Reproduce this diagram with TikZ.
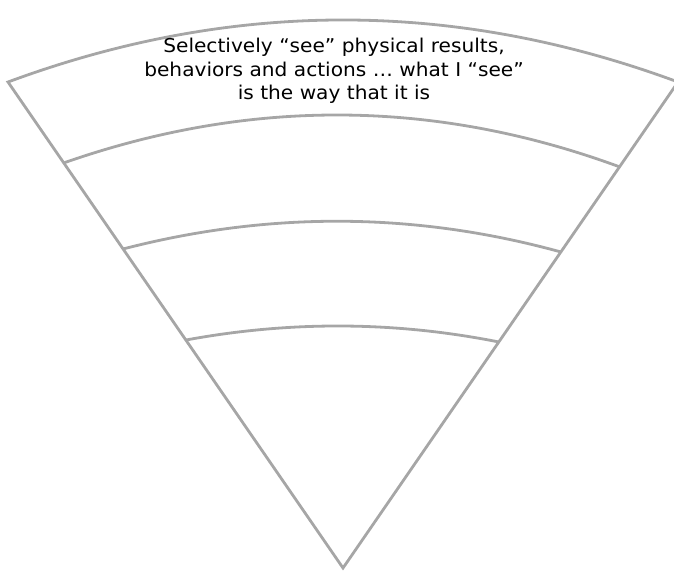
\documentclass[tikz,border=0pt]{standalone}
\usepackage{fontspec}
\setmainfont{DejaVu Sans}[FakeStretch=1.06]
\begin{document}
\begin{tikzpicture}[x=1pt,y=-1pt,
  band/.style={draw=black!35, line width=2.8pt, line join=miter},
  label/.style={align=center, font=\fontsize{19}{23.5}\selectfont, inner sep=0pt}]
\useasboundingbox (0,0) rectangle (674,571);
\coordinate (A) at (343,568);
\coordinate (TL) at (8,82);
\coordinate (TR) at (678,82);
\coordinate (L2) at (63.5,163);
\coordinate (R2) at (620,167);
\coordinate (L3) at (123,249);
\coordinate (R3) at (561,252);
\coordinate (L4) at (186,340);
\coordinate (R4) at (499,342);
\draw[band] (TL) .. controls (231.3,-0.7) and (454.7,-0.7) .. (TR) -- (A) -- cycle;
\draw[band] (L2) .. controls (249.8,97.7) and (435.3,99) .. (R2);
\draw[band] (L3) .. controls (269.7,211) and (415.7,212) .. (R3);
\draw[band] (L4) .. controls (290.7,320.7) and (395,321.3) .. (R4);
\node[label] (t) at (334,71) {Selectively “see” physical results,\\behaviors and actions … what I “see”\\is the way that it is};
\end{tikzpicture}
\end{document}
